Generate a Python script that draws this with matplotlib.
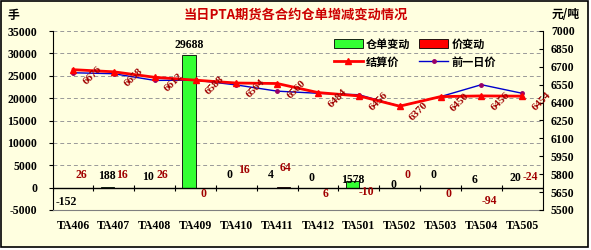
import matplotlib
matplotlib.use("Agg")
import matplotlib.pyplot as plt
import numpy as np
from matplotlib.patches import Patch, Rectangle
from matplotlib.lines import Line2D

plt.rcParams['font.family'] = ['Noto Sans CJK SC', 'DejaVu Sans']

# data
contracts = ['TA406', 'TA407', 'TA408', 'TA409', 'TA410', 'TA411',
             'TA412', 'TA501', 'TA502', 'TA503', 'TA504', 'TA505']
receipt_chg = [-152, 188, 10, 29688, 0, 4, 0, 1578, 0, 0, 6, 20]
price_chg = [26, 16, 26, 0, 16, 64, 6, -10, 0, 0, -94, -24]
settle = [6676, 6658, 6612, 6588, 6564, 6560, 6484, 6456, 6370, 6450, 6456, 6454]
prev_settle = [6650, 6642, 6586, 6588, 6548, 6496, 6478, 6466, 6370, 6450, 6550, 6478]

# label offsets (pixels, relative to bar top / zero line) - just styling
receipt_dy = [-14, 11, 11, 10, 13, 13, 10, 1, 3, 13, 8, 10]
price_dy = [13, 13, 13, -6, 18, 20, -6, -4, 13, -6, -13, 11]

bg = '#ffffe0'
dark_red = '#a00000'
num_font = dict(family='Liberation Serif', weight='bold')

fig = plt.figure(figsize=(5.91, 2.5), dpi=100, facecolor='white')
fig.patches.append(Rectangle((1 / 591, 3 / 250), 587 / 591, 246 / 250, transform=fig.transFigure,
                             facecolor=bg, edgecolor='black', lw=1.2, zorder=-1))

ax = fig.add_axes([52.6 / 591, 40 / 250, 490 / 591, 179 / 250])
ax.set_facecolor(bg)
x = np.arange(len(contracts))
w = 0.32

ax.bar(x - 0.16, receipt_chg, w, color='#33ff33', edgecolor='black', lw=0.6, zorder=3)
ax.bar(x + 0.16, price_chg, w, color='#ff0000', edgecolor='black', lw=0.6, zorder=3)

ax.set_xlim(-0.5, len(contracts) - 0.5)
ax.set_ylim(-5000, 35000)
ax.set_yticks(np.arange(-5000, 35001, 5000))
ax.set_yticklabels([str(v) for v in range(-5000, 35001, 5000)], fontsize=8.5, **num_font)
ax.set_xticks(x)
ax.set_xticklabels(contracts, fontsize=8.5, **num_font)
ax.tick_params(axis='x', length=0, pad=7)
ax.tick_params(axis='y', length=3, pad=8, direction='out')
ax.grid(axis='y', color='#999999', ls=(0, (4, 3)), lw=0.7, zorder=0)
ax.spines['top'].set_visible(False)
ax.spines['right'].set_visible(False)
ax.spines['bottom'].set_color('#808080')
ax.axhline(0, color='black', lw=1, zorder=4)
ax.vlines(np.arange(-0.5, len(contracts), 1.0), -650, 650, color='black', lw=0.8, zorder=4)

px = 0.72  # points per pixel
for i in range(len(contracts)):
    ax.annotate(str(receipt_chg[i]), (x[i] - 0.16, max(receipt_chg[i], 0)),
                xytext=(0, receipt_dy[i] * px), textcoords='offset points',
                ha='center', va='center', fontsize=8.5, color='black', zorder=6, **num_font)
    ax.annotate(str(price_chg[i]), (x[i] + 0.16, 0),
                xytext=(1, price_dy[i] * px), textcoords='offset points',
                ha='center', va='center', fontsize=8.5, color=dark_red, zorder=6, **num_font)

ax2 = ax.twinx()
ax2.set_ylim(5500, 7000)
ax2.set_yticks(np.arange(5500, 7001, 150))
ax2.set_yticklabels([str(v) for v in range(5500, 7001, 150)], fontsize=8.5, **num_font)
ax2.tick_params(axis='y', length=3, direction='in', pad=6)
ax2.spines['top'].set_visible(False)
ax2.spines['left'].set_visible(False)
ax2.spines['bottom'].set_visible(False)

ax2.plot(x, prev_settle, color='#0000cc', lw=1, marker='o', ms=2.5,
         mfc='#990066', mec='#990066', zorder=5)
ax2.plot(x, settle, color='#ff0000', lw=2, marker='^', ms=5, zorder=6)
for i in range(len(contracts)):
    ax2.annotate(str(settle[i]), (x[i], settle[i]), xytext=(14, -4), textcoords='offset points',
                 ha='center', va='center', rotation=45, fontsize=8, color=dark_red, zorder=7,
                 **num_font)

handles = [Patch(facecolor='#33ff33', edgecolor='black', lw=0.6),
           Line2D([], [], color='#ff0000', lw=2, marker='^', ms=5),
           Patch(facecolor='#ff0000', edgecolor='black', lw=0.6),
           Line2D([], [], color='#0000cc', lw=1, marker='o', ms=2.5, mfc='#990066', mec='#990066')]
labels = ['仓单变动', '结算价', '价变动', '前一日价']
leg = ax2.legend(handles, labels, ncol=2, loc='upper left', bbox_to_anchor=(0.56, 1.0),
                 frameon=False, prop=dict(family=['Noto Sans CJK SC'], weight='bold', size=8),
                 handlelength=2.6, handleheight=0.9, columnspacing=0.8, labelspacing=0.45,
                 handletextpad=0.3, borderaxespad=0.2)

fig.text(296 / 591, 1 - 15 / 250, '当日PTA期货各合约仓单增减变动情况', ha='center', va='center',
         fontsize=9.5, weight='bold', color='#cc0000')
fig.text(13 / 591, 1 - 15 / 250, '手', ha='center', va='center', fontsize=8.5, weight='bold')
fig.text(566 / 591, 1 - 15 / 250, '元/吨', ha='center', va='center', fontsize=8.5, weight='bold')

fig.savefig('out.png', dpi=100, facecolor=fig.get_facecolor())
